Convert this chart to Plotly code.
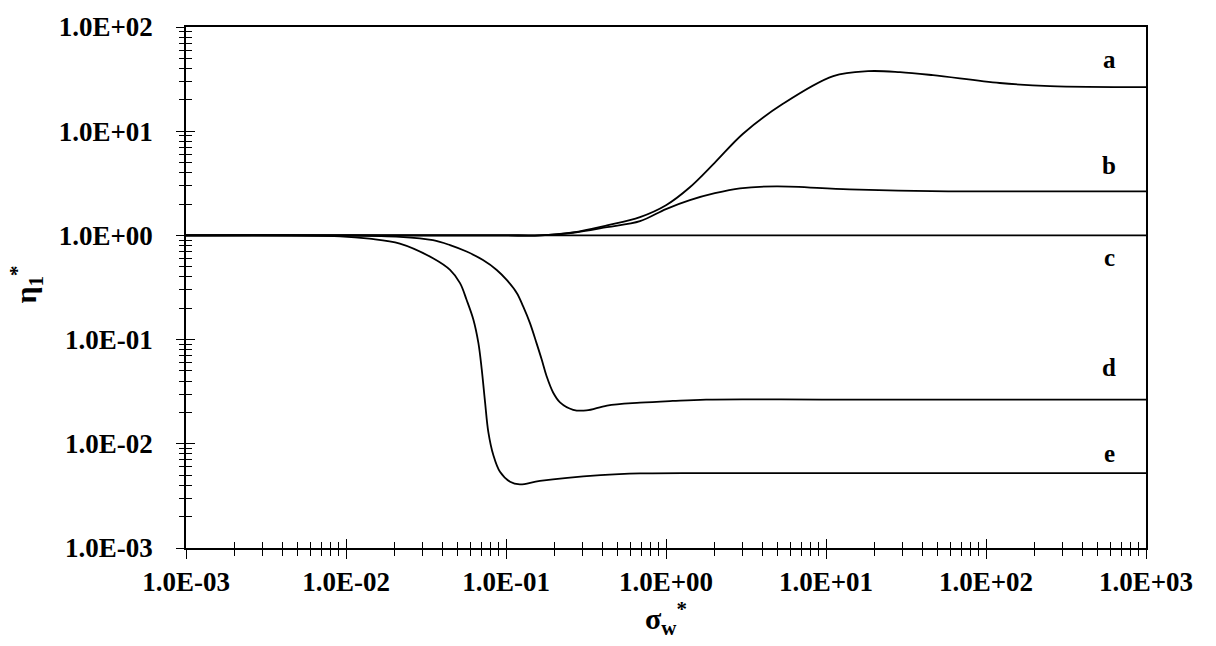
import math
import plotly.graph_objects as go

# Curve data: sigma_w* (x) and eta_1* (y) for curves a-e
x_a = [0.001, 0.01, 0.05, 0.1, 0.163, 0.262, 0.428, 0.688, 1.0, 1.41, 2.02, 3.03, 5.38, 11.1, 18.3, 29, 46.6, 122, 251, 1000]
y_a = [1.0, 1.0, 1.0, 1.0, 1.0, 1.07, 1.25, 1.5, 1.95, 2.9, 5.0, 9.46, 18.3, 33.8, 37.7, 36.9, 34.5, 29.0, 27.1, 26.5]

x_b = [0.001, 0.01, 0.05, 0.1, 0.163, 0.262, 0.428, 0.688, 1.0, 1.41, 2.02, 2.9, 4.9, 14, 58, 250, 1000]
y_b = [1.0, 1.0, 1.0, 1.0, 1.0, 1.06, 1.2, 1.37, 1.79, 2.18, 2.54, 2.83, 2.96, 2.77, 2.65, 2.65, 2.65]

x_c = [0.001, 1000]
y_c = [1.0, 1.0]

x_d = [0.001, 0.01, 0.0217, 0.035, 0.0447, 0.0567, 0.0718, 0.0875, 0.101, 0.117, 0.128, 0.141, 0.155,
       0.167, 0.179, 0.197, 0.2175, 0.263, 0.318, 0.428, 0.688, 1.1, 1.78, 10, 100, 1000]
y_d = [1.0, 1.0, 0.97, 0.90, 0.807, 0.70, 0.58, 0.466, 0.374, 0.279, 0.208, 0.1446, 0.093,
       0.0647, 0.045, 0.0311, 0.025, 0.0212, 0.0209, 0.0233, 0.0248, 0.0258, 0.0266, 0.0266, 0.0266, 0.0266]

x_e = [0.001, 0.0092, 0.014, 0.0217, 0.0352, 0.0447, 0.0516, 0.0567, 0.0625, 0.0672, 0.0705, 0.074, 0.0776,
       0.0834, 0.0917, 0.106, 0.122, 0.163, 0.39, 0.688, 1.78, 10, 100, 1000]
y_e = [1.0, 0.98, 0.93, 0.834, 0.60, 0.466, 0.348, 0.241, 0.156, 0.093, 0.052, 0.025, 0.0129,
       0.00776, 0.00538, 0.00432, 0.00408, 0.0044, 0.0050, 0.0052, 0.00524, 0.00524, 0.00524, 0.00524]

curve_names = ["a", "b", "c", "d", "e"]
label_x = 590
label_y = [49, 4.7, 0.61, 0.0536, 0.0081]

x_ticks = [0.001, 0.01, 0.1, 1, 10, 100, 1000]
x_tick_labels = ["1.0E-03", "1.0E-02", "1.0E-01", "1.0E+00", "1.0E+01", "1.0E+02", "1.0E+03"]
y_ticks = [0.001, 0.01, 0.1, 1, 10, 100]
y_tick_labels = ["1.0E-03", "1.0E-02", "1.0E-01", "1.0E+00", "1.0E+01", "1.0E+02"]

FONT = "Liberation Serif"
X_RANGE = [-3, 3]
Y_RANGE = [-3, 2]

fig = go.Figure()
for xs, ys in [(x_a, y_a), (x_b, y_b), (x_c, y_c), (x_d, y_d), (x_e, y_e)]:
    fig.add_trace(go.Scatter(x=xs, y=ys, mode="lines",
                             line=dict(color="black", width=1.8, shape="spline", smoothing=1.0),
                             showlegend=False, hoverinfo="skip"))

# curve letters near the right edge (log axes take exponents for annotation positions)
for name, ly in zip(curve_names, label_y):
    fig.add_annotation(x=math.log10(label_x), y=math.log10(ly), xref="x", yref="y",
                       text=name, showarrow=False, xanchor="center", yanchor="middle",
                       font=dict(family=FONT, size=25, color="black", weight="bold"))

# y-axis title
fig.add_annotation(x=-0.166, y=0.505, xref="paper", yref="paper",
                   text="η<sub>1</sub><sup>*</sup>", showarrow=False, textangle=-90,
                   xanchor="center", yanchor="middle",
                   font=dict(family=FONT, size=30, color="black", weight="bold"))


def tick_layer(direction, vals, rng, overlay, side):
    # one half (inside or outside) of the crossing tick marks, without labels
    return dict(type="log", range=rng, overlaying=overlay, matches=overlay, side=side,
                showgrid=False, zeroline=False, showline=False, showticklabels=False,
                tickvals=vals, ticks=direction, ticklen=9, tickwidth=1.3, tickcolor="black",
                minor=dict(ticks=direction, ticklen=6, tickwidth=1.2, tickcolor="black", dtick="D1"))


fig.update_layout(
    width=1216, height=646,
    margin=dict(l=186, r=70, t=23, b=98),
    paper_bgcolor="white", plot_bgcolor="white",
    xaxis=dict(type="log", range=X_RANGE, showgrid=False, zeroline=False,
               showline=True, linecolor="black", linewidth=1.6, mirror=True,
               tickvals=x_ticks, ticktext=x_tick_labels,
               ticks="outside", ticklen=9, tickwidth=1.3, tickcolor="black",
               tickfont=dict(family=FONT, size=27, color="black", weight="bold"),
               minor=dict(ticks="outside", ticklen=6, tickwidth=1.2, tickcolor="black", dtick="D1"),
               title=dict(text="σ<sub>w</sub><sup>*</sup>", standoff=4,
                          font=dict(family=FONT, size=30, color="black", weight="bold"))),
    # label-carrying y axis: its transparent long ticks set the label distance
    yaxis=dict(type="log", range=Y_RANGE, showgrid=False, zeroline=False,
               showline=True, linecolor="black", linewidth=1.6, mirror=True,
               tickvals=y_ticks, ticktext=y_tick_labels,
               ticks="outside", ticklen=26, tickwidth=1, tickcolor="rgba(0,0,0,0)",
               tickfont=dict(family=FONT, size=27, color="black", weight="bold")),
    yaxis2=tick_layer("outside", y_ticks, Y_RANGE, "y", "left"),
    yaxis3=tick_layer("inside", y_ticks, Y_RANGE, "y", "left"),
    xaxis2=tick_layer("inside", x_ticks, X_RANGE, "x", "bottom"),
)
# invisible traces that activate the tick-layer axes
for xa, ya in [("x2", "y2"), ("x", "y3")]:
    fig.add_trace(go.Scatter(x=[0.001, 1000], y=[0.001, 100], xaxis=xa, yaxis=ya,
                             mode="markers", marker=dict(opacity=0),
                             showlegend=False, hoverinfo="skip"))

fig.write_html("out.html")
